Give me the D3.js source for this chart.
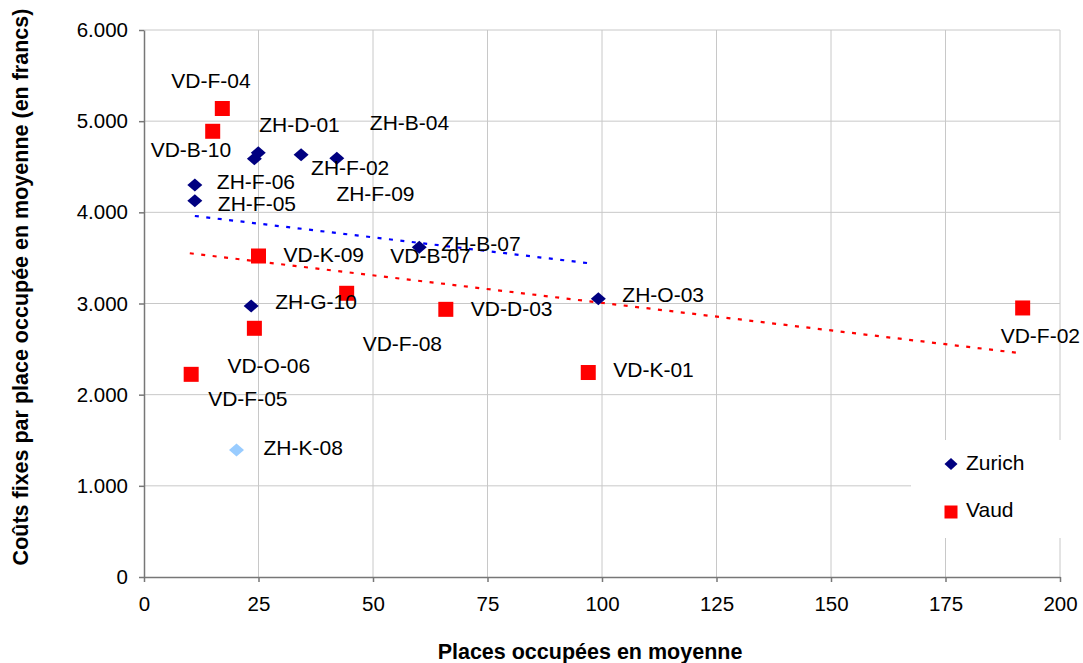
<!DOCTYPE html>
<html lang="fr">
<head>
    <meta charset="UTF-8">
    <title>Coûts fixes par place occupée</title>
    <script src="https://d3js.org/d3.v7.min.js"></script>
    <style>
        body { margin: 0; background: #fff; }
        text { font-family: "Liberation Sans", Arial, sans-serif; fill: #000; }
        .grid line { stroke: #c8c8c8; stroke-width: 1; }
        .axis path, .axis line { stroke: #777; stroke-width: 1.5; }
        .axis text { font-size: 20.5px; }
        .lbl { font-size: 21px; }
        .title { font-size: 21.5px; font-weight: bold; }
    </style>
</head>
<body>
<svg height="663" width="1083"></svg>

<script>
    // data
    const zurichNames = ["ZH-D-01", "ZH-F-09", "ZH-F-02", "ZH-B-04", "ZH-F-06", "ZH-F-05", "ZH-B-07", "ZH-G-10", "ZH-O-03"];
    const zurichX = [24.95, 24.1, 34.3, 42.1, 11.1, 11.1, 60.1, 23.4, 99.2];
    const zurichY = [4654, 4588, 4632, 4592, 4300, 4127, 3616, 2972, 3053];

    const vaudNames = ["VD-F-04", "VD-B-10", "VD-K-09", "VD-F-08", "VD-D-03", "VD-O-06", "VD-F-05", "VD-K-01", "VD-F-02"];
    const vaudX = [17.1, 15.0, 25.0, 44.25, 65.9, 24.1, 10.3, 97.0, 191.85];
    const vaudY = [5139, 4889, 3521, 3112, 2936, 2728, 2223, 2243, 2951];

    const otherNames = ["ZH-K-08"];
    const otherX = [20.2];
    const otherY = [1393];

    // trend lines (end points as drawn)
    const trendZurich = [[11.1, 3960], [97.4, 3440]];
    const trendVaud = [[10.0, 3551], [190.5, 2460]];

    const xTicks = [0, 25, 50, 75, 100, 125, 150, 175, 200];
    const yTicks = [0, 1000, 2000, 3000, 4000, 5000, 6000];

    // where each data label sits relative to its point (px)
    const labelOffsets = {
        "VD-F-04": [-51, -28], "VD-B-10": [-62, 18], "ZH-D-01": [1, -28], "ZH-B-04": [33, -36],
        "ZH-F-02": [10, 13], "ZH-F-09": [82, 35], "ZH-F-06": [22, -3], "ZH-F-05": [23, 3],
        "ZH-B-07": [22, -4], "VD-K-09": [25, -2], "ZH-G-10": [24, -4.5], "VD-D-03": [25, -1],
        "VD-F-08": [16, 50], "VD-O-06": [-27, 37.5], "VD-F-05": [17, 24], "ZH-K-08": [27, -3],
        "ZH-O-03": [24, -4], "VD-K-01": [25, -3], "VD-F-02": [-22, 28]
    };
    // label kept in the chart without a visible point, hung on ZH-B-07
    const extraLabels = [["VD-B-07", "ZH-B-07", -29, 8]];

    const svg = d3.select("svg");
    const x = d3.scaleLinear().domain([0, 200]).range([144, 1060]);
    const y = d3.scaleLinear().domain([0, 6000]).range([577, 30]);
    const fr = d3.formatLocale({decimal: ",", thousands: ".", grouping: [3], currency: ["", " CHF"]});

    // grid
    const grid = svg.append("g").attr("class", "grid");
    grid.selectAll(".h").data(yTicks.filter(d => d > 0)).enter().append("line")
        .attr("x1", x(0)).attr("x2", x(200)).attr("y1", d => y(d)).attr("y2", d => y(d));
    grid.selectAll(".v").data(xTicks.filter(d => d > 0)).enter().append("line")
        .attr("y1", y(0)).attr("y2", y(6000)).attr("x1", d => x(d)).attr("x2", d => x(d));

    // axes
    svg.append("g").attr("class", "axis")
        .attr("transform", "translate(0," + y(0) + ")")
        .call(d3.axisBottom(x).tickValues(xTicks).tickSize(5).tickSizeOuter(0).tickPadding(14))
        .selectAll("text").attr("font-family", null).attr("font-size", null);
    svg.append("g").attr("class", "axis")
        .attr("transform", "translate(" + x(0) + ",0)")
        .call(d3.axisLeft(y).tickValues(yTicks).tickFormat(fr.format(",d")).tickSize(5).tickSizeOuter(0).tickPadding(11))
        .selectAll("text").attr("font-family", null).attr("font-size", null);
    svg.selectAll(".axis").attr("font-family", null).attr("font-size", null);

    // trend lines
    const line = d3.line().x(d => x(d[0])).y(d => y(d[1]));
    svg.append("path").attr("d", line(trendZurich))
        .attr("fill", "none").attr("stroke", "#0000ff").attr("stroke-width", 2.2).attr("stroke-dasharray", "4,7.5");
    svg.append("path").attr("d", line(trendVaud))
        .attr("fill", "none").attr("stroke", "#ff0000").attr("stroke-width", 2.2).attr("stroke-dasharray", "4,7.5");

    const diamond = (w, h) => `M0,${-h / 2}L${w / 2},0L0,${h / 2}L${-w / 2},0Z`;

    const pts = {};
    zurichNames.forEach((n, i) => pts[n] = [zurichX[i], zurichY[i]]);
    vaudNames.forEach((n, i) => pts[n] = [vaudX[i], vaudY[i]]);
    otherNames.forEach((n, i) => pts[n] = [otherX[i], otherY[i]]);

    // Vaud squares
    svg.append("g").selectAll("rect").data(vaudNames).enter().append("rect")
        .attr("x", d => x(pts[d][0]) - 7.5).attr("y", d => y(pts[d][1]) - 7.5)
        .attr("width", 15).attr("height", 15).attr("fill", "#ff0000");

    // Zurich diamonds
    svg.append("g").selectAll("path").data(zurichNames).enter().append("path")
        .attr("d", diamond(15, 13))
        .attr("transform", d => `translate(${x(pts[d][0])},${y(pts[d][1])})`)
        .attr("fill", "#000080");
    svg.append("g").selectAll("path").data(otherNames).enter().append("path")
        .attr("d", diamond(15, 13))
        .attr("transform", d => `translate(${x(pts[d][0])},${y(pts[d][1])})`)
        .attr("fill", "#99ccff");

    // data labels
    const labels = Object.keys(labelOffsets).map(n => [n, n, labelOffsets[n][0], labelOffsets[n][1]]).concat(extraLabels);
    svg.append("g").selectAll("text").data(labels).enter().append("text")
        .attr("class", "lbl")
        .attr("x", d => x(pts[d[1]][0]) + d[2])
        .attr("y", d => y(pts[d[1]][1]) + d[3] + 7.5)
        .text(d => d[0]);

    // legend
    const lg = svg.append("g");
    lg.append("rect").attr("x", 911).attr("y", 440).attr("width", 164).attr("height", 98).attr("fill", "#fff");
    lg.append("path").attr("d", diamond(13, 12)).attr("transform", "translate(951,464)").attr("fill", "#000080");
    lg.append("rect").attr("x", 944.5).attr("y", 505.5).attr("width", 13).attr("height", 13).attr("fill", "#ff0000");
    lg.append("text").attr("class", "lbl").attr("x", 966).attr("y", 469.5).text("Zurich");
    lg.append("text").attr("class", "lbl").attr("x", 966).attr("y", 517).text("Vaud");

    // axis titles
    svg.append("text").attr("class", "title").attr("text-anchor", "middle")
        .attr("x", 590).attr("y", 659).text("Places occupées en moyenne");
    svg.append("text").attr("class", "title").attr("text-anchor", "middle")
        .attr("transform", "translate(28,287) rotate(-90)")
        .text("Coûts fixes par place occupée en moyenne (en francs)");
</script>

</body>
</html>
